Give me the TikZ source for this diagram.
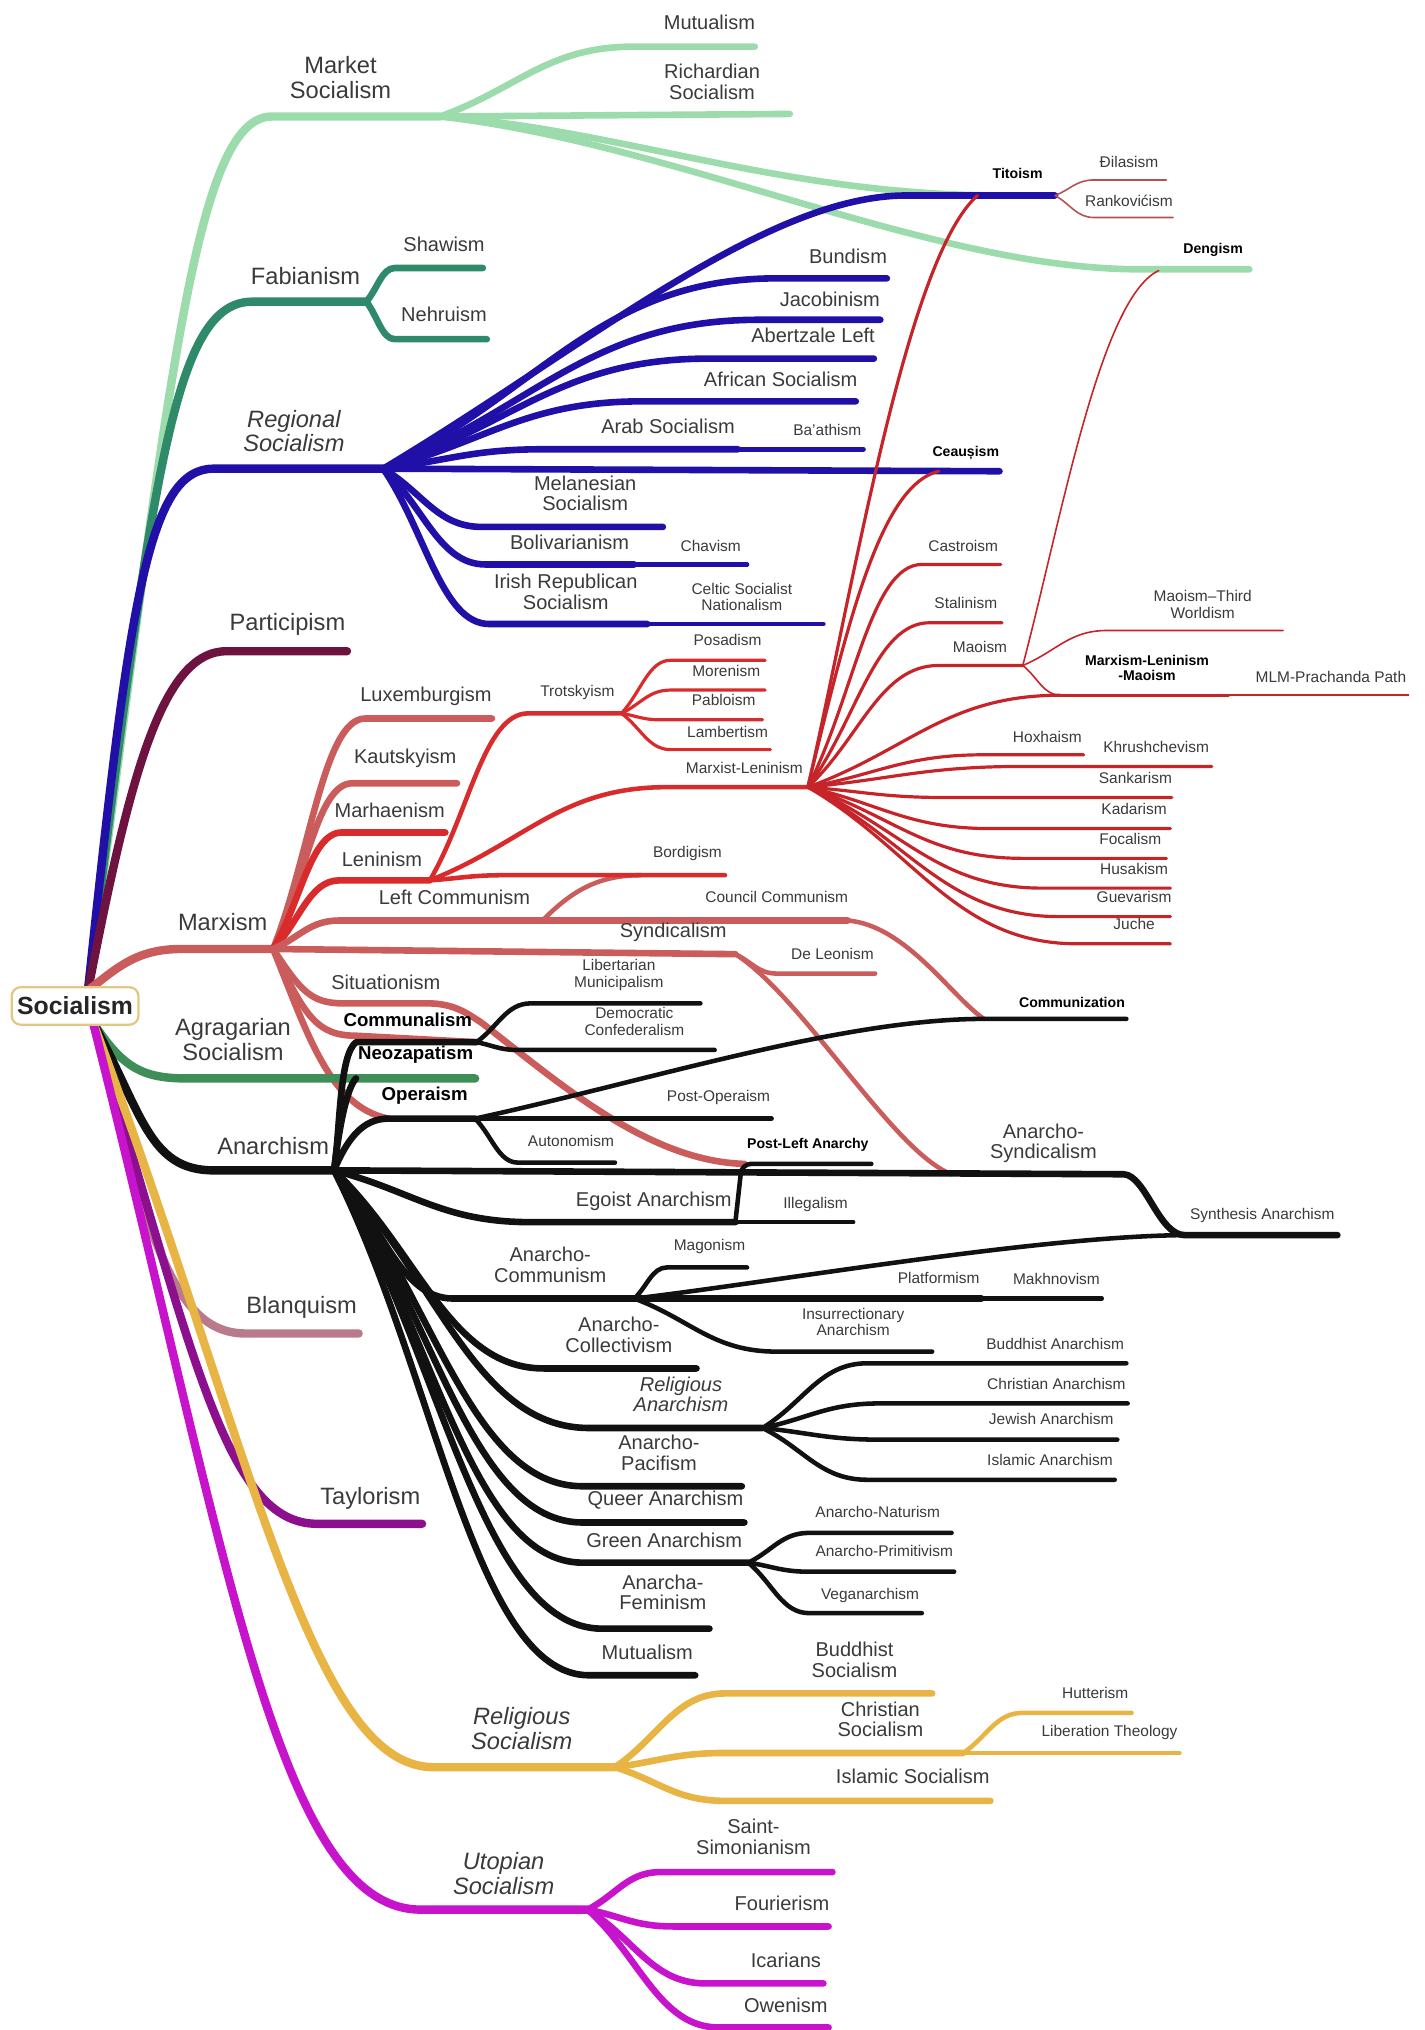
\documentclass[tikz,border=0pt]{standalone}
\usepackage{fontspec}
\setmainfont{Liberation Sans}
\usetikzlibrary{calc}
\definecolor{txt}{HTML}{3A3A3A}
\definecolor{rootc}{HTML}{E2C983}
\definecolor{mktc}{HTML}{9CDBAB}
\definecolor{fabc}{HTML}{2F8A6A}
\definecolor{regc}{HTML}{2010A8}
\definecolor{parc}{HTML}{6E1240}
\definecolor{marc}{HTML}{CB5C5C}
\definecolor{lenc}{HTML}{D92B2B}
\definecolor{mlc}{HTML}{C62428}
\definecolor{thrc}{HTML}{B45252}
\definecolor{agrc}{HTML}{3F8E57}
\definecolor{anc}{HTML}{111111}
\definecolor{blac}{HTML}{B97A8C}
\definecolor{tayc}{HTML}{8C108E}
\definecolor{relc}{HTML}{E8B443}
\definecolor{utoc}{HTML}{C714CC}
\tikzset{
  trunk/.style={line width=3.7pt, line cap=round, line join=round},
  limb/.style={line width=2.9pt, line cap=round, line join=round},
  twig/.style={line width=2.0pt, line cap=round, line join=round},
  sprig/.style={line width=1.4pt, line cap=round, line join=round},
  hair/.style={line width=0.7pt, line cap=round, line join=round},
  mkt/.style={draw=mktc}, fab/.style={draw=fabc}, reg/.style={draw=regc},
  par/.style={draw=parc}, mar/.style={draw=marc}, len/.style={draw=lenc},
  ml/.style={draw=mlc}, thr/.style={draw=thrc}, agr/.style={draw=agrc},
  an/.style={draw=anc}, bla/.style={draw=blac}, tay/.style={draw=tayc},
  rel/.style={draw=relc}, uto/.style={draw=utoc},
  big/.style={text=txt, inner sep=0pt, align=center, font=\fontsize{10.4}{10.9}\selectfont},
  bigit/.style={big, font=\fontsize{10.4}{10.9}\selectfont\itshape},
  mid/.style={text=txt, inner sep=0pt, align=center, font=\fontsize{8.8}{9.1}\selectfont},
  midit/.style={mid, font=\fontsize{8.8}{9.1}\selectfont\itshape},
  midb/.style={mid, text=black, font=\fontsize{8.2}{9}\selectfont\bfseries},
  sml/.style={text=txt, inner sep=0pt, align=center, font=\fontsize{6.8}{7.2}\selectfont},
  smlb/.style={sml, text=black, font=\fontsize{6.2}{6.8}\selectfont\bfseries},
  root/.style={draw=rootc, fill=white, line width=1pt, rounded corners=4pt,
    minimum width=1.96cm, minimum height=0.58cm, inner sep=2pt,
    text=black!85, font=\fontsize{10.9}{11}\selectfont\bfseries}
}
% fork -> (x1,y) with a bend, then straight on to x2
\newcommand{\sprout}[5][]{\draw[#1] (#2) .. controls ($(#2)!0.4!(#3,#4)$) and ($(#2 |- #3,#4)!0.55!(#3,#4)$) .. (#3,#4) -- (#5,#4);}

\begin{document}
\begin{tikzpicture}[x=0.02cm, y=-0.02cm]
  \useasboundingbox (0,0) rectangle (1100,1568);
  % forks
  \coordinate (rt) at (68,765);
  \coordinate (rb) at (72,790);
  \coordinate (mktF) at (340,90);
  \coordinate (fabF) at (283,233);
  \coordinate (regF) at (296,362);
  \coordinate (titF) at (815,151);
  \coordinate (marxF) at (211,733);
  \coordinate (lenF) at (332,680);
  \coordinate (trotF) at (480,551);
  \coordinate (mlF) at (624,608);
  \coordinate (maoF) at (790,514);
  \coordinate (mlmF) at (819,537);
  \coordinate (lcF) at (655,711);
  \coordinate (syndF) at (568,737);
  \coordinate (comlF) at (368,805);
  \coordinate (anF) at (258,904);
  \coordinate (opF) at (367,864);
  \coordinate (asF) at (868,907);
  \coordinate (synF) at (915,954);
  \coordinate (egoF) at (568,944);
  \coordinate (acF) at (490,1003);
  \coordinate (ranF) at (589,1103);
  \coordinate (grnF) at (578,1207);
  \coordinate (relF) at (475,1365);
  \coordinate (chrF) at (744,1354);
  \coordinate (utoF) at (454,1475);
  \coordinate (cmzF) at (760,787);

  % market socialism
  \draw[trunk,mkt] (rt) .. controls (130,300) and (150,90) .. (210,90) -- (mktF);
  \sprout[limb,mkt]{mktF}{490}{36}{583}
  \draw[limb,mkt] (mktF) -- (610,88);
  \draw[limb,mkt] (mktF) .. controls (480,100) and (600,150) .. (770,151);
  \draw[limb,mkt] (mktF) .. controls (520,110) and (720,208) .. (880,208) -- (965,208);

  % fabianism
  \draw[trunk,fab] (rt) .. controls (118,360) and (135,233) .. (195,233) -- (fabF);
  \sprout[limb,fab]{fabF}{305}{207}{373}
  \sprout[limb,fab]{fabF}{305}{262}{376}

  % regional socialism
  \draw[trunk,reg] (rt) .. controls (100,460) and (115,362) .. (165,362) -- (regF);
  \draw[limb,reg] (regF) .. controls (450,270) and (590,151) .. (700,151) -- (titF);
  \sprout[limb,reg]{regF}{600}{215}{685}
  \sprout[limb,reg]{regF}{586}{247}{680}
  \sprout[limb,reg]{regF}{547}{277}{675}
  \sprout[limb,reg]{regF}{496}{310}{661}
  \sprout[limb,reg]{regF}{420}{347}{570}
  \draw[twig,reg] (570,347) -- (667,347);
  \draw[limb,reg] (regF) -- (772,364);
  \sprout[limb,reg]{regF}{372}{407}{512}
  \sprout[limb,reg]{regF}{375}{436}{490}
  \draw[twig,reg] (490,436) -- (577,436);
  \sprout[limb,reg]{regF}{378}{482}{500}
  \draw[twig,reg] (500,482) -- (636,482);
  \sprout[hair,thr]{titF}{845}{139}{901}
  \sprout[hair,thr]{titF}{845}{168}{906}

  % participism
  \draw[trunk,par] (rt) .. controls (100,600) and (125,503) .. (175,503) -- (268,503);

  % marxism
  \draw[trunk,mar] (rt) .. controls (90,748) and (105,733) .. (140,733) -- (marxF);
  \sprout[limb,mar]{marxF}{282}{555}{380}
  \sprout[limb,mar]{marxF}{272}{605}{353}
  \sprout[limb,len]{marxF}{264}{643}{344}
  \sprout[limb,len]{marxF}{262}{680}{332}
  \sprout[limb,mar]{marxF}{262}{711}{655}
  \draw[limb,mar] (marxF) -- (syndF);
  \sprout[twig,mar]{syndF}{600}{752}{676}
  \draw[twig,mar] (syndF) .. controls (620,770) and (690,890) .. (735,907);
  \draw[twig,mar] (lcF) .. controls (700,715) and (735,770) .. (cmzF);
  \draw[twig,mar] (419,711) .. controls (440,690) and (460,676) .. (495,676);
  \draw[limb,mar] (marxF) .. controls (232,765) and (240,775) .. (265,775) -- (330,775)
    .. controls (350,775) and (360,782) .. (372,790) .. controls (430,835) and (500,897) .. (575,899);
  \draw[limb,mar] (marxF) .. controls (235,785) and (245,800) .. (275,800) -- (comlF);
  \draw[limb,mar] (marxF) .. controls (238,800) and (255,855) .. (300,864);
  % leninism
  \sprout[twig,len]{lenF}{408}{551}{480}
  \sprout[twig,len]{lenF}{515}{608}{624}
  \sprout[twig,len]{lenF}{390}{676}{560}
  \sprout[sprig,len]{trotF}{518}{510}{591}
  \sprout[sprig,len]{trotF}{518}{533}{591}
  \sprout[sprig,len]{trotF}{510}{556}{589}
  \sprout[sprig,len]{trotF}{518}{579}{595}
  % marxist-leninist
  \draw[sprig,ml] (mlF) .. controls (660,450) and (700,200) .. (755,151);
  \draw[sprig,ml] (mlF) .. controls (655,480) and (680,375) .. (725,364);
  \sprout[sprig,ml]{mlF}{712}{436}{773}
  \sprout[sprig,ml]{mlF}{718}{481}{774}
  \sprout[sprig,ml]{mlF}{725}{514}{790}
  \sprout[sprig,ml]{mlF}{819}{537}{819}
  \sprout[sprig,ml]{mlF}{760}{583}{837}
  \sprout[sprig,ml]{mlF}{790}{592}{936}
  \sprout[sprig,ml]{mlF}{730}{616}{905}
  \sprout[sprig,ml]{mlF}{765}{640}{904}
  \sprout[sprig,ml]{mlF}{790}{663}{901}
  \sprout[sprig,ml]{mlF}{805}{686}{904}
  \sprout[sprig,ml]{mlF}{818}{708}{904}
  \sprout[sprig,ml]{mlF}{832}{729}{904}
  % maoism
  \draw[hair,ml] (maoF) .. controls (820,400) and (850,230) .. (895,209);
  \sprout[hair,ml]{maoF}{855}{487}{991}
  \sprout[hair,ml]{maoF}{819}{537}{819}
  \draw[sprig,ml] (mlmF) -- (949,537);
  \draw[hair,ml] (949,537) -- (1088,537);

  % agragarian socialism
  \draw[trunk,agr] (rb) .. controls (95,825) and (110,833) .. (145,833) -- (367,833);

  % anarchism
  \draw[trunk,an] (rb) .. controls (110,860) and (115,904) .. (165,904) -- (anF);
  \draw[limb,an] (anF) .. controls (263,870) and (262,815) .. (275,805) -- (comlF);
  \draw[limb,an] (anF) .. controls (262,870) and (268,840) .. (275,833);
  \draw[limb,an] (anF) .. controls (268,880) and (280,864) .. (300,864) -- (opF);
  \draw[limb,an] (anF) -- (asF) .. controls (885,908) and (895,954) .. (synF) -- (1033,954);
  \sprout[limb,an]{anF}{410}{944}{568}
  \draw[twig,an] (egoF) -- (659,944);
  \draw[twig,an,rounded corners=4pt] (egoF) -- (573,899) -- (673,899);
  \sprout[limb,an]{anF}{350}{1003}{490}
  \sprout[limb,an]{anF}{420}{1057}{538}
  \sprout[limb,an]{anF}{455}{1103}{589}
  \sprout[limb,an]{anF}{450}{1148}{573}
  \sprout[limb,an]{anF}{450}{1176}{575}
  \sprout[limb,an]{anF}{450}{1207}{578}
  \sprout[limb,an]{anF}{465}{1258}{548}
  \sprout[limb,an]{anF}{455}{1294}{537}
  \draw[twig,an] (opF) -- (596,864);
  \sprout[twig,an]{opF}{400}{898}{475}
  \draw[twig,an] (opF) .. controls (500,835) and (650,787) .. (cmzF) -- (870,787);
  \sprout[twig,an]{comlF}{410}{775}{541}
  \sprout[twig,an]{comlF}{400}{811}{552}
  \sprout[twig,an]{acF}{515}{979}{577}
  \draw[twig,an] (acF) .. controls (600,990) and (800,955) .. (synF);
  \draw[limb,an] (acF) -- (758,1003);
  \draw[twig,an] (758,1003) -- (851,1003);
  \sprout[twig,an]{acF}{600}{1044}{720}
  \sprout[twig,an]{ranF}{670}{1053}{870}
  \sprout[twig,an]{ranF}{680}{1084}{871}
  \sprout[twig,an]{ranF}{680}{1112}{863}
  \sprout[twig,an]{ranF}{670}{1143}{861}
  \sprout[twig,an]{grnF}{625}{1184}{735}
  \sprout[twig,an]{grnF}{625}{1214}{737}
  \sprout[twig,an]{grnF}{625}{1246}{712}

  % blanquism, taylorism
  \draw[trunk,bla] (rb) .. controls (115,960) and (135,1030) .. (190,1030) -- (277,1030);
  \draw[trunk,tay] (rb) .. controls (150,1050) and (175,1177) .. (245,1177) -- (326,1177);

  % religious socialism
  \draw[trunk,rel] (rb) .. controls (195,1120) and (240,1365) .. (335,1365) -- (relF);
  \sprout[limb,rel]{relF}{560}{1308}{720}
  \sprout[limb,rel]{relF}{560}{1354}{744}
  \sprout[limb,rel]{relF}{560}{1391}{765}
  \sprout[twig,rel]{chrF}{790}{1323}{874}
  \draw[twig,rel] (chrF) -- (911,1354);

  % utopian socialism
  \draw[trunk,uto] (rb) .. controls (175,1200) and (215,1475) .. (325,1475) -- (utoF);
  \sprout[limb,uto]{utoF}{510}{1446}{643}
  \sprout[limb,uto]{utoF}{520}{1488}{640}
  \sprout[limb,uto]{utoF}{545}{1532}{636}
  \sprout[limb,uto]{utoF}{555}{1566}{640}

  % labels
  \node[root] (socialism) at (58,777) {Socialism};
  \node[big] (market) at (263,60) {Market\\Socialism};
  \node[big] (fabian) at (236,213) {Fabianism};
  \node[bigit] (regional) at (227,333) {Regional\\Socialism};
  \node[big] (particip) at (222,482) {Participism};
  \node[big] (marxism) at (172,712) {Marxism};
  \node[big] (agrarian) at (180,803) {Agragarian\\Socialism};
  \node[big] (anarchism) at (211,885) {Anarchism};
  \node[big] (blanqui) at (233,1010) {Blanquism};
  \node[big] (taylor) at (286,1157) {Taylorism};
  \node[bigit] (religsoc) at (403,1335) {Religious\\Socialism};
  \node[bigit] (utopian) at (389,1447) {Utopian\\Socialism};

  \node[mid] (mutual1) at (548,17) {Mutualism};
  \node[mid] (richard) at (550,63) {Richardian\\Socialism};
  \node[mid] (shaw) at (343,189) {Shawism};
  \node[mid] (nehru) at (343,243) {Nehruism};
  \node[mid] (bund) at (655,198) {Bundism};
  \node[mid] (jacob) at (641,231) {Jacobinism};
  \node[mid] (abertz) at (628,259) {Abertzale Left};
  \node[mid] (african) at (603,293) {African Socialism};
  \node[mid] (arab) at (516,329) {Arab Socialism};
  \node[mid] (melan) at (452,381) {Melanesian\\Socialism};
  \node[mid] (boliv) at (440,419) {Bolivarianism};
  \node[mid] (irish) at (437,457) {Irish Republican\\Socialism};
  \node[mid] (luxem) at (329,538) {Luxemburgism};
  \node[mid] (kauts) at (313,586) {Kautskyism};
  \node[mid] (marhae) at (301,626) {Marhaenism};
  \node[mid] (lenin) at (295,664) {Leninism};
  \node[mid] (leftcom) at (351,693) {Left Communism};
  \node[mid] (syndic) at (520,720) {Syndicalism};
  \node[mid] (situ) at (298,759) {Situationism};
  \node[midb] (communal) at (315,788) {Communalism};
  \node[midb] (neozap) at (321,815) {Neozapatism};
  \node[midb] (opera) at (328,846) {Operaism};
  \node[mid] (ansynd) at (806,883) {Anarcho-\\Syndicalism};
  \node[mid] (egoist) at (505,928) {Egoist Anarchism};
  \node[mid] (ancom) at (425,977) {Anarcho-\\Communism};
  \node[mid] (ancoll) at (478,1031) {Anarcho-\\Collectivism};
  \node[midit] (relan) at (526,1077) {Religious\\Anarchism};
  \node[mid] (anpac) at (509,1122) {Anarcho-\\Pacifism};
  \node[mid] (queer) at (514,1159) {Queer Anarchism};
  \node[mid] (green) at (513,1190) {Green Anarchism};
  \node[mid] (anfem) at (512,1230) {Anarcha-\\Feminism};
  \node[mid] (mutual2) at (500,1276) {Mutualism};
  \node[mid] (budsoc) at (660,1282) {Buddhist\\Socialism};
  \node[mid] (chrsoc) at (680,1328) {Christian\\Socialism};
  \node[mid] (islsoc) at (705,1372) {Islamic Socialism};
  \node[mid] (simon) at (582,1419) {Saint-\\Simonianism};
  \node[mid] (fourier) at (604,1470) {Fourierism};
  \node[mid] (icar) at (607,1514) {Icarians};
  \node[mid] (owen) at (607,1549) {Owenism};

  \node[smlb] (tito) at (786,134) {Titoism};
  \node[sml] (dilas) at (872,125) {Đilasism};
  \node[sml] (rankov) at (872,155) {Rankovićism};
  \node[smlb] (deng) at (937,193) {Dengism};
  \node[sml] (baath) at (639,332) {Ba'athism};
  \node[smlb] (ceau) at (746,350) {Ceaușism};
  \node[sml] (chav) at (549,422) {Chavism};
  \node[sml] (celtic) at (573,461) {Celtic Socialist\\Nationalism};
  \node[sml] (trot) at (446,535) {Trotskyism};
  \node[sml] (posad) at (562,494) {Posadism};
  \node[sml] (moren) at (561,518) {Morenism};
  \node[sml] (pablo) at (559,541) {Pabloism};
  \node[sml] (lambert) at (562,565) {Lambertism};
  \node[sml] (mlism) at (575,593) {Marxist-Leninism};
  \node[sml] (bordig) at (531,659) {Bordigism};
  \node[sml] (council) at (600,693) {Council Communism};
  \node[sml] (deleon) at (643,737) {De Leonism};
  \node[sml] (castro) at (744,422) {Castroism};
  \node[sml] (stalin) at (746,466) {Stalinism};
  \node[sml] (mao) at (757,500) {Maoism};
  \node[sml] (mtw) at (929,467) {Maoism–Third\\Worldism};
  \node[smlb] (mlm) at (886,516) {Marxism-Leninism\\-Maoism};
  \node[sml] (prach) at (1028,523) {MLM-Prachanda Path};
  \node[sml] (hoxha) at (809,569) {Hoxhaism};
  \node[sml] (khru) at (893,577) {Khrushchevism};
  \node[sml] (sank) at (877,601) {Sankarism};
  \node[sml] (kadar) at (876,625) {Kadarism};
  \node[sml] (focal) at (873,648) {Focalism};
  \node[sml] (husak) at (876,671) {Husakism};
  \node[sml] (guev) at (876,693) {Guevarism};
  \node[sml] (juche) at (876,714) {Juche};
  \node[sml] (libmun) at (478,753) {Libertarian\\Municipalism};
  \node[sml] (democ) at (490,789) {Democratic\\Confederalism};
  \node[smlb] (commzn) at (828,774) {Communization};
  \node[sml] (postop) at (555,848) {Post-Operaism};
  \node[sml] (autonom) at (441,881) {Autonomism};
  \node[smlb] (postleft) at (624,884) {Post-Left Anarchy};
  \node[sml] (synth) at (975,939) {Synthesis Anarchism};
  \node[sml] (illeg) at (630,930) {Illegalism};
  \node[sml] (magon) at (548,963) {Magonism};
  \node[sml] (platf) at (725,987) {Platformism};
  \node[sml] (makhno) at (816,988) {Makhnovism};
  \node[sml] (insurr) at (659,1021) {Insurrectionary\\Anarchism};
  \node[sml] (budan) at (815,1038) {Buddhist Anarchism};
  \node[sml] (chran) at (816,1069) {Christian Anarchism};
  \node[sml] (jewan) at (812,1096) {Jewish Anarchism};
  \node[sml] (islan) at (811,1128) {Islamic Anarchism};
  \node[sml] (natur) at (678,1168) {Anarcho-Naturism};
  \node[sml] (primit) at (683,1198) {Anarcho-Primitivism};
  \node[sml] (vegan) at (672,1232) {Veganarchism};
  \node[sml] (hutter) at (846,1308) {Hutterism};
  \node[sml] (libth) at (857,1338) {Liberation Theology};
\end{tikzpicture}
\end{document}
